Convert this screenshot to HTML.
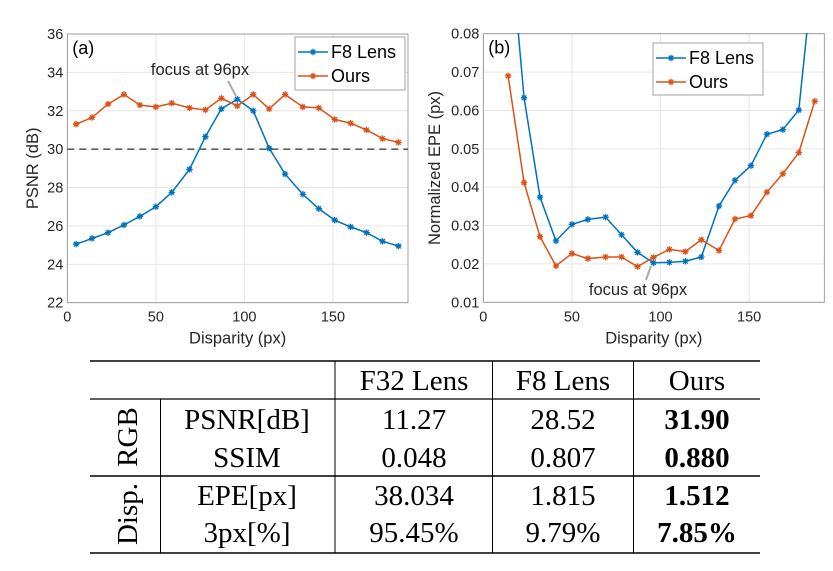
<!DOCTYPE html>
<html><head><meta charset="utf-8">
<style>
body{margin:0;background:#fff;width:833px;height:571px;overflow:hidden}
svg{position:absolute;left:0;top:0}
.tk{font-family:"Liberation Sans",sans-serif;font-size:14.5px;fill:#262626}
.al{font-family:"Liberation Sans",sans-serif;font-size:16.5px;fill:#262626}
.lg{font-family:"Liberation Sans",sans-serif;font-size:18px;fill:#000}
.tb{font-family:"Liberation Serif",serif;font-size:29px;fill:#000}
</style></head><body>
<svg id="s" width="833" height="571">
<defs><clipPath id="ca"><rect x="67" y="34" width="341" height="269"/></clipPath>
<clipPath id="cb"><rect x="483" y="33" width="342" height="270"/></clipPath></defs>
</svg>
<script>
const disparity=[5,14,23,32,41,50,59,69,78,87,96,105,114,123,133,142,151,160,169,178,187];
const psnrF8=[25.05,25.35,25.65,26.05,26.5,27.0,27.75,28.95,30.65,32.1,32.6,32.0,30.05,28.7,27.65,26.9,26.3,25.95,25.65,25.2,24.95];
const psnrOurs=[31.3,31.65,32.35,32.85,32.3,32.2,32.4,32.15,32.05,32.65,32.25,32.85,32.1,32.85,32.2,32.15,31.55,31.35,31.0,30.55,30.35];
const epeDisp=[14,23,32,41,50,59,69,78,87,96,105,114,123,133,142,151,160,169,178,187];
const epeF8=[0.11,0.0633,0.0374,0.026,0.0303,0.0316,0.0322,0.0276,0.023,0.0203,0.0204,0.0207,0.0218,0.0351,0.0418,0.0456,0.0538,0.055,0.0601,0.1];
const epeOurs=[0.069,0.0412,0.0271,0.0195,0.0227,0.0214,0.0218,0.0218,0.0193,0.0217,0.0238,0.0232,0.0263,0.0235,0.0317,0.0326,0.0387,0.0435,0.049,0.0624];
const xTicks=[0,50,100,150];
const psnrTicks=[22,24,26,28,30,32,34,36];
const epeTicks=[0.01,0.02,0.03,0.04,0.05,0.06,0.07,0.08];
const tableHeader=["F32 Lens","F8 Lens","Ours"];
const tableRows=[["PSNR[dB]","11.27","28.52","31.90"],["SSIM","0.048","0.807","0.880"],["EPE[px]","38.034","1.815","1.512"],["3px[%]","95.45%","9.79%","7.85%"]];

const S=document.getElementById('s');const NS='http://www.w3.org/2000/svg';
function mk(t,a,p){const e=document.createElementNS(NS,t);for(const k in a)e.setAttribute(k,a[k]);(p||S).appendChild(e);return e;}
function txt(x,y,s,c,anchor,extra,p){const e=mk('text',Object.assign({x:x,y:y,class:c,'text-anchor':anchor||'middle'},extra||{}),p);e.textContent=s;return e;}
const BLUE='#0072BD',ORANGE='#D95319';
function star(g,x,y,col){const r=3.2;const d=`M${x-r},${y}L${x+r},${y}M${x},${y-r}L${x},${y+r}M${x-2.3},${y-2.3}L${x+2.3},${y+2.3}M${x-2.3},${y+2.3}L${x+2.3},${y-2.3}`;return mk('path',{d:d,stroke:col,'stroke-width':1.3,fill:'none'},g);}

function chart(o){
  const X=v=>o.x0+v*(o.x1-o.x0)/192.4;
  const Y=v=>o.y1-(v-o.ymin)*(o.y1-o.y0)/(o.ymax-o.ymin);
  const g=mk('g',{});
  
  
  mk('rect',{x:o.x0,y:o.y0,width:o.x1-o.x0,height:o.y1-o.y0,fill:'#fff'},g);
  xTicks.forEach(t=>{const x=X(t);mk('line',{x1:x,x2:x,y1:o.y0,y2:o.y1,stroke:'#e6e6e6'},g);
    const e=txt(x,o.y1+19,String(t),'tk','middle',{},g);});
  o.yt.forEach(t=>{const y=Y(t);mk('line',{x1:o.x0,x2:o.x1,y1:y,y2:y,stroke:'#e6e6e6'},g);
    const e=txt(o.x0-4,y+5,o.fmt(t),'tk','end',{},g);});
  mk('rect',{x:o.x0,y:o.y0,width:o.x1-o.x0,height:o.y1-o.y0,fill:'none',stroke:'#8c8c8c','stroke-width':0.8},g);
  const xl=txt((o.x0+o.x1)/2,o.y1+41,'Disparity (px)','al','middle',{},g);
  const yl=txt(0,0,o.ylab,'al','middle',{transform:`translate(${o.ylx},${(o.y0+o.y1)/2}) rotate(-90)`},g);
  const pl=txt(o.x0+5,o.y0+20,o.panel,'lg','start',{'font-size':'19px'},g);
  const cg=mk('g',{'clip-path':`url(#${o.clip})`},g);
  if(o.dash){mk('line',{x1:o.x0,x2:o.x1,y1:Y(30),y2:Y(30),stroke:'#000','stroke-dasharray':'7,5','stroke-width':1},cg);}
  o.series.forEach(s=>{
    const sg=mk('g',{},cg);
    
    
    mk('polyline',{points:s.v.map((v,i)=>X(s.x[i])+','+Y(v)).join(' '),fill:'none',stroke:s.c,'stroke-width':1.5},sg);
    s.v.forEach((v,i)=>{const p=star(sg,X(s.x[i]),Y(v),s.c);});
  });
  mk('line',{x1:o.ann.lx1,y1:o.ann.ly1,x2:o.ann.lx2,y2:o.ann.ly2,stroke:'#aaa','stroke-width':2},g);
  const an=txt(o.ann.tx,o.ann.ty,'focus at 96px','al','middle',{fill:'#6b7a8a'},g);
  const L=o.leg;const lg=mk('g',{},g);
  
  
  mk('rect',{x:L.x,y:L.y,width:L.w,height:L.h,fill:'#fff',stroke:'#8c8c8c','stroke-width':0.8},lg);
  [['F8 Lens',BLUE],['Ours',ORANGE]].forEach((e,i)=>{const y=L.y+15+i*24;
    const eg=mk('g',{},lg);
    
    
    mk('line',{x1:L.x+3,x2:L.x+33,y1:y,y2:y,stroke:e[1],'stroke-width':1.5},eg);star(eg,L.x+18,y,e[1]);
    txt(L.x+36,y+6,e[0],'lg','start',{},eg);});
}
chart({name:'psnr-chart',x0:67.3,x1:408,y0:34,y1:302.7,ymin:22,ymax:36,yt:psnrTicks,fmt:t=>String(t),ylab:'PSNR (dB)',ylx:38,panel:'(a)',clip:'ca',dash:true,
  series:[{name:'series-f8-lens',x:disparity,v:psnrF8,c:BLUE},{name:'series-ours',x:disparity,v:psnrOurs,c:ORANGE}],
  ann:{lx1:228,ly1:81,lx2:236,ly2:96,tx:200,ty:75},leg:{x:295,y:37,w:110,h:53}});
chart({name:'epe-chart',x0:483.3,x1:824.3,y0:33.7,y1:302.3,ymin:0.01,ymax:0.08,yt:epeTicks,fmt:t=>t.toFixed(2),ylab:'Normalized EPE (px)',ylx:440,panel:'(b)',clip:'cb',dash:false,
  series:[{name:'series-f8-lens',x:epeDisp,v:epeF8,c:BLUE},{name:'series-ours',x:epeDisp,v:epeOurs,c:ORANGE}],
  ann:{lx1:651,ly1:266,lx2:646,ly2:280,tx:638,ty:295},leg:{x:653,y:43,w:110,h:52}});

const T=mk('g',{});


[[361,1.5],[399,1.2],[476,1.5],[553,1.5]].forEach(l=>mk('line',{x1:90,x2:760,y1:l[0],y2:l[0],stroke:'#000','stroke-width':l[1]},T));
mk('line',{x1:160.5,x2:160.5,y1:399,y2:553,stroke:'#000'},T);
[335,492.5,633.5].forEach(x=>mk('line',{x1:x,x2:x,y1:361,y2:553,stroke:'#000'},T));
const colC=[247,414,563,697];
tableHeader.forEach((h,i)=>{const e=txt(colC[i+1],390,h,'tb','middle',{},T);});
const rowY=[429,467,505,542];
tableRows.forEach((r,ri)=>r.forEach((c,ci)=>{const e=txt(colC[ci],rowY[ri],c,'tb','middle',ci==3?{'font-weight':'bold'}:{},T);}));
const g1=txt(0,0,'RGB','tb','middle',{transform:'translate(137,437) rotate(-90)'},T);
const g2=txt(0,0,'Disp.','tb','middle',{transform:'translate(137,514) rotate(-90)'},T);
</script>
</body></html>
